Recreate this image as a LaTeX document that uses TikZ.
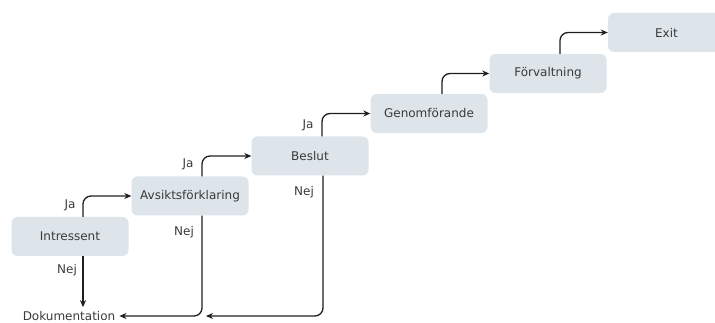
\documentclass[tikz,border=0pt]{standalone}
\usepackage{fontspec}
\setmainfont{DejaVu Sans}
\usetikzlibrary{arrows.meta}
\definecolor{boxfill}{HTML}{DDE4EA}
\definecolor{txt}{HTML}{3A3A3A}
\definecolor{lin}{HTML}{1E1E1E}
\begin{document}
\begin{tikzpicture}[x=1pt,y=-1pt,
  stage/.style={fill=boxfill, rounded corners=6pt, minimum width=117pt, minimum height=39pt, inner sep=0pt, text=txt, font=\fontsize{12}{14}\selectfont},
  lbl/.style={text=txt, inner sep=0pt, font=\fontsize{12}{14}\selectfont},
  conn/.style={draw=lin, line width=1.3pt, rounded corners=8pt, -{Stealth[length=7pt,width=6pt]}}]
\useasboundingbox (0,0) rectangle (715,323);
\clip (0,0) rectangle (715,323);
\node[stage] (i) at (70,236.5) {Intressent};
\node[stage] (a) at (190,196) {Avsiktsförklaring};
\node[stage] (b) at (310,156) {Beslut};
\node[stage] (g) at (429,113.5) {Genomförande};
\node[stage] (f) at (548,73.5) {Förvaltning};
\node[stage] (e) at (666.5,32.5) {Exit};
\node[lbl, inner sep=4pt] (d) at (69,316) {Dokumentation};
\coordinate (m) at (206,316);
% Ja connectors
\draw[conn] ([xshift=13pt]i.north) |- (a.west);
\draw[conn] ([xshift=12pt]a.north) |- (b.west);
\draw[conn] ([xshift=12pt]b.north) |- (g.west);
\draw[conn] ([xshift=13pt]g.north) |- (f.west);
\draw[conn] ([xshift=12pt]f.north) |- (e.west);
% Nej connectors
\draw[conn] ([xshift=13pt]i.south) -- ([xshift=13pt]i.south |- d.north);
\draw[conn] ([xshift=12pt]a.south) |- (d.east);
\draw[conn] ([xshift=13pt]b.south) |- (m);
% labels
\node[lbl] (ja1) at (70,205) {Ja};
\node[lbl] (ja2) at (188,164) {Ja};
\node[lbl] (ja3) at (308,125) {Ja};
\node[lbl] (nej1) at (67,270) {Nej};
\node[lbl] (nej2) at (184,232) {Nej};
\node[lbl] (nej3) at (304,192) {Nej};
\end{tikzpicture}
\end{document}
